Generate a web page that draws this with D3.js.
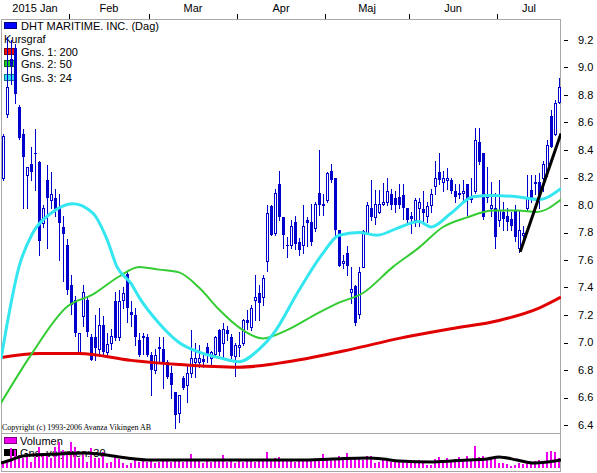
<!DOCTYPE html>
<html>
<head>
<meta charset="utf-8">
<script src="https://cdn.jsdelivr.net/npm/d3@7"></script>
<style>
  body { margin: 0; background: #fff; }
  text { font-family: "Liberation Sans", Arial, sans-serif; }
</style>
</head>
<body>
<div id="chart"></div>
<script>
// daily candles, index 0 = first visible trading day (Jan 2015)
const opens = [
  8.20, 8.66, 9.06, 9.14, 8.71, 8.52, 8.22, 8.30, 8.38, 8.31,
  7.87, 8.18, 8.04, 8.05, 7.98, 7.84, 7.71, 7.42, 7.31, 6.93,
  7.19, 7.31, 7.04, 7.04, 6.95, 7.13, 6.93, 7.00, 7.30, 7.04,
  7.31, 7.50, 7.22, 7.20, 7.02, 7.04, 7.04, 6.91, 6.80, 6.97,
  6.95, 6.86, 6.78, 6.64, 6.49, 6.74, 6.69, 6.78, 6.86, 6.86,
  6.88, 6.97, 6.89, 6.92, 7.09, 7.00, 7.09, 7.04, 6.90, 6.97,
  7.00, 7.16, 7.11, 7.31, 7.36, 7.33, 7.59, 7.99, 7.80, 8.15,
  7.91, 7.71, 7.71, 7.88, 7.73, 7.71, 7.89, 7.88, 7.83, 8.09,
  8.01, 8.04, 8.25, 8.20, 7.82, 7.58, 7.65, 7.37, 7.41, 7.21,
  7.55, 7.80, 7.98, 7.91, 7.95, 8.01, 8.02, 8.08, 8.05, 8.06,
  8.07, 7.98, 7.92, 7.89, 7.98, 7.97, 7.92, 8.00, 8.14, 8.24,
  8.17, 8.18, 8.18, 8.10, 8.09, 8.09, 8.15, 8.05, 8.10, 8.46,
  8.38, 8.07, 7.98, 7.98, 7.89, 7.95, 7.92, 7.90, 7.96, 7.69,
  7.78, 7.98, 8.11, 8.17, 8.17, 8.20, 8.24, 8.65, 8.52, 8.75
];
const highs = [
  8.52, 9.22, 9.20, 9.17, 8.73, 8.55, 8.28, 8.42, 8.55, 8.32,
  8.00, 8.29, 8.24, 8.12, 8.08, 7.92, 7.75, 7.49, 7.34, 7.07,
  7.42, 7.33, 7.06, 7.20, 7.25, 7.19, 7.07, 7.10, 7.37, 7.38,
  7.40, 7.52, 7.30, 7.25, 7.07, 7.07, 7.06, 6.93, 6.95, 7.04,
  7.04, 6.87, 6.83, 6.64, 6.62, 6.76, 6.83, 7.09, 7.00, 6.98,
  6.92, 7.00, 6.94, 7.05, 7.10, 7.14, 7.12, 7.06, 7.00, 7.08,
  7.17, 7.24, 7.27, 7.49, 7.42, 7.49, 8.00, 8.00, 8.12, 8.25,
  7.91, 7.77, 7.89, 7.92, 7.76, 8.00, 7.91, 8.01, 8.02, 8.40,
  8.08, 8.24, 8.30, 8.20, 7.82, 7.64, 7.70, 7.55, 7.42, 7.55,
  7.82, 8.02, 8.18, 8.11, 8.11, 8.16, 8.20, 8.12, 8.10, 8.15,
  8.15, 7.98, 7.95, 8.05, 8.05, 8.10, 8.02, 8.12, 8.32, 8.38,
  8.25, 8.27, 8.20, 8.15, 8.15, 8.18, 8.15, 8.20, 8.56, 8.56,
  8.38, 8.28, 8.17, 8.09, 8.18, 8.02, 7.98, 7.95, 8.00, 7.96,
  7.85, 8.22, 8.22, 8.22, 8.23, 8.32, 8.47, 8.69, 8.76, 8.92
];
const lows = [
  8.18, 8.64, 8.88, 8.74, 8.48, 7.98, 7.98, 8.18, 8.11, 7.64,
  7.84, 7.69, 7.98, 7.92, 7.60, 7.45, 7.35, 7.21, 7.05, 6.92,
  7.12, 7.05, 6.87, 6.87, 6.90, 6.92, 6.91, 6.95, 7.02, 7.02,
  7.25, 7.15, 7.12, 6.98, 6.90, 6.92, 6.90, 6.62, 6.78, 6.85,
  6.67, 6.74, 6.60, 6.38, 6.42, 6.66, 6.57, 6.75, 6.75, 6.82,
  6.82, 6.86, 6.84, 6.91, 6.91, 6.89, 7.02, 6.89, 6.76, 6.90,
  6.98, 7.10, 7.09, 7.16, 7.16, 7.27, 7.52, 7.78, 7.78, 7.89,
  7.69, 7.62, 7.69, 7.68, 7.64, 7.65, 7.70, 7.71, 7.81, 7.93,
  7.93, 8.02, 8.17, 7.77, 7.56, 7.54, 7.49, 7.29, 7.13, 7.18,
  7.55, 7.80, 7.89, 7.86, 7.94, 8.00, 8.00, 7.97, 7.95, 7.98,
  7.90, 7.87, 7.80, 7.85, 7.85, 7.88, 7.88, 7.95, 8.08, 8.15,
  8.10, 8.12, 8.09, 8.02, 8.05, 8.04, 7.93, 8.02, 8.09, 8.30,
  7.90, 8.02, 7.92, 7.69, 7.85, 7.82, 7.82, 7.82, 7.74, 7.66,
  7.75, 7.96, 8.02, 8.08, 7.98, 8.10, 8.21, 8.42, 8.51, 8.74
];
const closes = [
  8.50, 8.86, 9.01, 8.81, 8.49, 8.35, 8.28, 8.24, 8.37, 7.74,
  7.98, 8.05, 8.08, 7.97, 7.87, 7.79, 7.38, 7.27, 7.07, 7.07,
  7.37, 7.08, 6.87, 6.96, 7.13, 6.93, 6.99, 7.05, 7.03, 7.30,
  7.36, 7.25, 7.20, 7.04, 6.91, 7.05, 6.91, 6.80, 6.91, 6.95,
  6.86, 6.75, 6.69, 6.47, 6.62, 6.67, 6.78, 6.89, 6.89, 6.89,
  6.86, 6.92, 6.93, 7.04, 6.93, 7.10, 7.06, 6.90, 6.98, 6.98,
  7.16, 7.14, 7.25, 7.33, 7.29, 7.47, 7.94, 7.78, 8.09, 7.91,
  7.78, 7.70, 7.85, 7.72, 7.67, 7.85, 7.87, 7.73, 8.01, 8.00,
  7.99, 8.23, 8.18, 7.82, 7.56, 7.59, 7.56, 7.39, 7.14, 7.51,
  7.81, 8.00, 7.91, 8.01, 8.01, 8.02, 8.10, 8.00, 8.00, 8.00,
  7.98, 7.89, 7.90, 8.04, 8.02, 7.94, 7.99, 8.08, 8.20, 8.18,
  8.20, 8.20, 8.10, 8.06, 8.07, 8.10, 8.04, 8.04, 8.47, 8.31,
  7.91, 8.05, 8.00, 7.77, 7.96, 7.90, 7.88, 7.85, 7.77, 7.82,
  7.80, 8.05, 8.05, 8.15, 8.06, 8.30, 8.44, 8.42, 8.74, 8.86
];
// volume, millions of shares
const volumes = [
  0.5, 0.6, 2.0, 1.8, 1.3, 1.0, 1.3, 0.6, 1.1, 2.1,
  1.5, 1.5, 1.0, 2.1, 2.6, 1.8, 1.3, 2.6, 2.1, 1.0,
  1.3, 0.6, 2.0, 1.0, 1.0, 1.6, 0.5, 0.6, 1.3, 0.9,
  0.5, 0.3, 0.5, 0.8, 0.6, 0.7, 0.6, 0.9, 0.5, 0.6,
  0.8, 0.7, 0.6, 0.9, 0.7, 0.6, 0.8, 1.4, 0.9, 0.7,
  0.5, 0.8, 0.6, 0.7, 0.9, 1.3, 0.6, 0.8, 0.5, 0.7,
  0.6, 0.9, 0.7, 0.6, 0.8, 0.9, 1.6, 0.9, 1.0, 1.1,
  0.7, 0.8, 0.8, 0.6, 0.7, 0.8, 0.7, 0.8, 0.7, 0.9,
  1.4, 0.9, 0.8, 1.0, 1.2, 1.1, 1.5, 0.9, 1.1, 1.0,
  0.8, 1.2, 1.2, 0.5, 0.6, 0.8, 0.9, 0.6, 0.7, 0.6,
  0.8, 0.6, 0.7, 0.6, 0.8, 0.5, 0.3, 0.3, 0.9, 1.1,
  0.8, 1.0, 0.6, 0.9, 1.1, 0.9, 1.2, 0.8, 2.2, 1.1,
  1.2, 1.0, 0.9, 1.2, 0.5, 0.5, 0.4, 0.2, 0.3, 0.5,
  0.4, 0.5, 0.4, 0.7, 0.8, 0.7, 1.6, 1.7, 1.6, 1.0
];

// moving averages (index, value)
const ma200Idx = [-0.5, 9, 19, 32, 44, 59, 69, 87, 99, 112, 124, 134, 139.5];
const ma200Val = [6.89, 6.92, 6.92, 6.87, 6.84, 6.82, 6.85, 6.95, 7.03, 7.10, 7.16, 7.25, 7.33];
const ma50Idx = [-0.5, 7, 16, 22.5, 29, 34, 39, 44, 49, 54, 59, 65, 71, 78.5, 84, 90, 97.5, 104, 110, 116, 122.5, 128.5, 133.5, 139.5];
const ma50Val = [6.56, 6.91, 7.26, 7.35, 7.48, 7.55, 7.53, 7.51, 7.40, 7.24, 7.11, 7.03, 7.09, 7.21, 7.29, 7.36, 7.55, 7.69, 7.84, 7.91, 7.96, 7.96, 7.95, 8.04];
const ma24Idx = [-0.5, 4, 7.5, 12, 17.5, 22.5, 26, 28.5, 32, 34, 39, 44, 49, 54, 59, 64, 67.5, 74, 80, 84, 89, 93.5, 98.5, 104, 107, 112, 117.5, 122.5, 128.5, 134, 139.5];
const ma24Val = [6.88, 7.55, 7.80, 7.94, 8.01, 7.94, 7.75, 7.55, 7.43, 7.33, 7.14, 7.00, 6.93, 6.89, 6.86, 6.95, 7.06, 7.38, 7.65, 7.78, 7.80, 7.78, 7.83, 7.88, 7.84, 7.94, 8.06, 8.07, 8.06, 8.04, 8.12];
const volAvgIdx = [-0.5, 2, 4, 7.5, 14, 20, 24, 27.5, 31, 37, 49, 62, 74, 82.5, 91, 95, 99, 107.5, 116, 121, 124, 128.5, 132.5, 136, 139.5];
const volAvgVal = [0.5, 0.8, 1.1, 1.3, 1.4, 1.5, 1.4, 1.2, 1.0, 0.8, 0.8, 0.8, 0.8, 0.9, 1.0, 0.9, 0.7, 0.6, 0.8, 0.9, 1.1, 0.8, 0.5, 0.6, 0.8];
const trendIdx = [129.3, 139.5];
const trendVal = [7.66, 8.52];

const monthLabels = ['2015 Jan', 'Feb', 'Mar', 'Apr', 'Maj', 'Jun', 'Jul'];
const monthStarts = [17, 37, 59, 81, 102, 124];
const priceTicks = [6.4, 6.6, 6.8, 7.0, 7.2, 7.4, 7.6, 7.8, 8.0, 8.2, 8.4, 8.6, 8.8, 9.0, 9.2];

const W = 597, H = 473;
const frame = { left: 1, right: 561, top: 19, mid: 433, bottom: 472 };
const BLUE = '#0000cc';

const svg = d3.select('#chart').append('svg').attr('width', W).attr('height', H);

const x = d3.scaleLinear().domain([-0.5, 139.5]).range([frame.left, frame.right]);
const y = d3.scaleLinear().domain([6.4, 9.2]).range([425, 40]);
const yv = d3.scaleLinear().domain([0, 3.5]).range([468, 433]);

svg.append('clipPath').attr('id', 'main').append('rect')
  .attr('x', frame.left).attr('y', frame.top)
  .attr('width', frame.right - frame.left).attr('height', frame.mid - frame.top);
svg.append('clipPath').attr('id', 'vol').append('rect')
  .attr('x', frame.left).attr('y', frame.mid)
  .attr('width', frame.right - frame.left).attr('height', frame.bottom - frame.mid);

// frames
svg.append('rect').attr('x', frame.left + 0.5).attr('y', frame.top + 0.5)
  .attr('width', frame.right - frame.left - 1).attr('height', frame.bottom - frame.top - 1)
  .attr('fill', 'none').attr('stroke', '#a8a8a8');
svg.append('line').attr('x1', frame.left).attr('x2', frame.right)
  .attr('y1', frame.mid + 0.5).attr('y2', frame.mid + 0.5)
  .attr('stroke', '#a8a8a8');

// month ticks and labels on top
const bounds = [frame.left].concat(monthStarts.map(s => x(s - 0.5)), [frame.right]);
svg.selectAll('.mtick').data(monthStarts).enter().append('line')
  .attr('x1', d => Math.round(x(d - 0.5)) + 0.5).attr('x2', d => Math.round(x(d - 0.5)) + 0.5)
  .attr('y1', 14).attr('y2', frame.top).attr('stroke', '#000');
svg.selectAll('.mlabel').data(monthLabels).enter().append('text')
  .attr('x', (d, i) => (bounds[i] + bounds[i + 1]) / 2).attr('y', 12)
  .attr('text-anchor', 'middle').style('font-size', '11px').text(d => d);

// price axis on the right
svg.selectAll('.ptick').data(priceTicks).enter().append('line')
  .attr('x1', 564).attr('x2', 568)
  .attr('y1', d => Math.round(y(d)) + 0.5).attr('y2', d => Math.round(y(d)) + 0.5)
  .attr('stroke', '#000');
svg.selectAll('.plabel').data(priceTicks).enter().append('text')
  .attr('x', 578).attr('y', d => y(d)).attr('dy', '0.36em')
  .style('font-size', '11px').text(d => d3.format('.1f')(d));

// legend
const legend = [
  { label: 'DHT MARITIME. INC. (Dag)', fill: '#0000ff', stroke: '#000080', yy: 26 },
  { label: 'Gns. 1: 200', fill: '#ff0000', stroke: '#800000', yy: 52 },
  { label: 'Gns. 2: 50', fill: '#22cc22', stroke: '#116611', yy: 64 },
  { label: 'Gns. 3: 24', fill: '#33ddee', stroke: '#117788', yy: 78 }
];
svg.selectAll('.lsw').data(legend).enter().append('rect')
  .attr('x', 4.5).attr('y', d => d.yy - 3.5).attr('width', 12).attr('height', 6)
  .attr('fill', d => d.fill).attr('stroke', d => d.stroke);
svg.selectAll('.ltx').data(legend).enter().append('text')
  .attr('x', 21).attr('y', d => d.yy).attr('dy', '0.36em')
  .style('font-size', '11px').text(d => d.label);
svg.append('text').attr('x', 4).attr('y', 39).attr('dy', '0.36em')
  .style('font-size', '11px').text('Kursgraf');

svg.append('text').attr('x', 2).attr('y', 430)
  .style('font-family', '"Liberation Serif", "Times New Roman", serif').style('font-size', '8px')
  .text('Copyright (c) 1993-2006 Avanza Vikingen AB');

// candles
const candles = opens.map((o, i) => ({ i, o, h: highs[i], l: lows[i], c: closes[i] }));
const g = svg.append('g').attr('clip-path', 'url(#main)');
const cx = d => Math.round(x(d.i));

g.selectAll('.wick').data(candles).enter().append('line')
  .attr('x1', d => cx(d) + 0.5).attr('x2', d => cx(d) + 0.5)
  .attr('y1', d => Math.round(y(d.h))).attr('y2', d => Math.round(y(d.l)) + 1)
  .attr('stroke', BLUE);

g.selectAll('.down').data(candles.filter(d => d.c < d.o)).enter().append('rect')
  .attr('x', d => cx(d) - 1).attr('width', 3)
  .attr('y', d => Math.round(y(d.o)))
  .attr('height', d => Math.max(1, Math.round(y(d.c)) - Math.round(y(d.o))))
  .attr('fill', BLUE);

g.selectAll('.up').data(candles.filter(d => d.c >= d.o)).enter().append('rect')
  .attr('x', d => cx(d) - 0.5).attr('width', 2)
  .attr('y', d => Math.round(y(d.c)) + 0.5)
  .attr('height', d => Math.max(1, Math.round(y(d.o)) - Math.round(y(d.c))))
  .attr('fill', '#fff').attr('stroke', BLUE);

// moving averages
const maLine = (idx, vals, color, w) => {
  const pts = idx.map((d, k) => [x(d), y(vals[k])]);
  g.append('path').attr('d', d3.line().curve(d3.curveMonotoneX)(pts))
    .attr('fill', 'none').attr('stroke', color).attr('stroke-width', w);
};
maLine(ma200Idx, ma200Val, '#e00000', 3);
maLine(ma50Idx, ma50Val, '#33cc33', 2);
maLine(ma24Idx, ma24Val, '#33e6f0', 3);

g.append('line')
  .attr('x1', x(trendIdx[0])).attr('y1', y(trendVal[0]))
  .attr('x2', x(trendIdx[1])).attr('y2', y(trendVal[1]))
  .attr('stroke', '#000').attr('stroke-width', 3);

// volume panel
svg.append('rect').attr('x', 4.5).attr('y', 437.5).attr('width', 12).attr('height', 6)
  .attr('fill', '#ee00ee').attr('stroke', '#800080');
svg.append('text').attr('x', 20).attr('y', 441).attr('dy', '0.36em')
  .style('font-size', '11px').text('Volumen');
svg.append('rect').attr('x', 4.5).attr('y', 449.5).attr('width', 12).attr('height', 6)
  .attr('fill', '#000').attr('stroke', '#000');
svg.append('text').attr('x', 20).attr('y', 453).attr('dy', '0.36em')
  .style('font-size', '11px').text('Gns. volymen: 30');

const gv = svg.append('g').attr('clip-path', 'url(#vol)');
gv.selectAll('.vbar').data(volumes).enter().append('rect')
  .attr('x', (d, i) => Math.round(x(i)) - 1).attr('width', 2)
  .attr('y', d => Math.round(yv(d))).attr('height', d => 468 - Math.round(yv(d)))
  .attr('fill', '#ee00ee');

const vpts = volAvgIdx.map((d, k) => [x(d), yv(volAvgVal[k])]);
gv.append('path').attr('d', d3.line().curve(d3.curveMonotoneX)(vpts))
  .attr('fill', 'none').attr('stroke', '#000').attr('stroke-width', 3);
</script>
</body>
</html>
